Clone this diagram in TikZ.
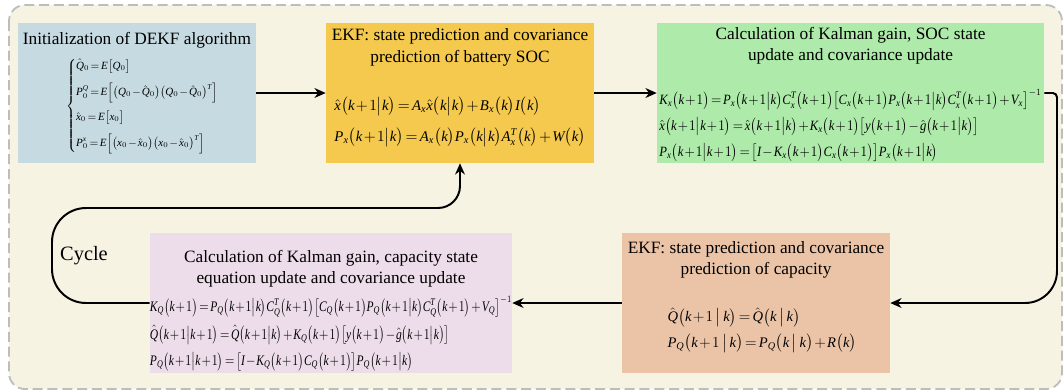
\documentclass[tikz,border=0pt]{standalone}
\usepackage{amsmath}
\usepackage{graphicx}
\usepackage{fontspec}
\setmainfont{Liberation Serif}
\DeclareSymbolFont{letters}{TU}{\rmdefault}{m}{it}
\usepackage{xcolor}
\usetikzlibrary{arrows.meta,positioning}

\definecolor{paper}{HTML}{F7F3E3}
\definecolor{initblue}{HTML}{C6DAE1}
\definecolor{socyellow}{HTML}{F4C94E}
\definecolor{gaingreen}{HTML}{AEEAAA}
\definecolor{gainpink}{HTML}{EDDDEA}
\definecolor{capsalmon}{HTML}{EBC4A7}
\definecolor{framegray}{HTML}{BDBDBD}

\newcommand{\rbr}[1]{\bigl(#1\bigr)}
\newcommand{\sbr}[1]{\bigl[#1\bigr]}
\newcommand{\cond}{\big|}
\newcommand{\tightmath}{\medmuskip=1.5mu\thickmuskip=2.5mu}

\tikzset{
  box/.style={minimum height=3.5cm, inner sep=0pt},
  boxtitle/.style={align=center, inner sep=0pt, font=\fontsize{12.3}{15}\selectfont},
  eqn/.style={inner sep=0pt, font=\fontsize{10.5}{12}\selectfont\tightmath},
  flow/.style={->, line width=1.4pt},
  frame/.style={draw=framegray, fill=paper, line width=1.3pt,
    dash pattern=on 0.25cm off 0.12cm, rounded corners=0.4cm}
}

\begin{document}
\begin{tikzpicture}[>={Stealth[length=8pt,width=7pt]}]
    \useasboundingbox (0,0) rectangle (26.6,-9.775);

    % Rahmen
    \draw[frame] (0.225,-0.125) rectangle (26.55,-9.725);

    % Bloecke
    \node[box, fill=initblue, minimum width=5.95cm] (init) at (3.425,-2.325) {};
    \node[box, fill=socyellow, minimum width=6.7cm] (soc) at (11.5,-2.325) {};
    \node[box, fill=gaingreen, minimum width=9.675cm] (gainx) at (21.2625,-2.325) {};
    \node[box, fill=capsalmon, minimum width=6.7cm] (capq) at (18.9,-7.575) {};
    \node[box, fill=gainpink, minimum width=9.05cm] (gainq) at (8.275,-7.575) {};

    % Initialisierung
    \node[boxtitle] (inittitle) at ([yshift=1.325cm]init.center) {Initialization of DEKF algorithm};
    \node[eqn, font=\fontsize{9}{11}\selectfont\tightmath] (initeq) at ([xshift=0.275cm,yshift=-0.325cm]init.center) {%
      \resizebox{4.1cm}{!}{$\begin{cases}
        \hat{Q}_0 = E\sbr{Q_0}\\[7pt]
        P_0^Q = E\Bigl[\rbr{Q_0-\hat{Q}_0}\rbr{Q_0-\hat{Q}_0}^T\Bigr]\\[7pt]
        \hat{x}_0 = E\sbr{x_0}\\[7pt]
        P_0^x = E\Bigl[\rbr{x_0-\hat{x}_0}\rbr{x_0-\hat{x}_0}^T\Bigr]
      \end{cases}$}};

    % SOC Vorhersage
    \node[boxtitle] (soctitle) at ([yshift=1.14cm]soc.center) {EKF: state prediction and covariance\\ prediction of battery SOC};
    \node[eqn] (soceq) at ([yshift=-0.725cm]soc.center) {%
      \resizebox{6.275cm}{!}{$\begin{aligned}
        &\hat{x}\rbr{k+1\cond k}=A_x\hat{x}\rbr{k\cond k}+B_x\rbr{k}I\rbr{k}\\[5pt]
        &P_x\rbr{k+1\cond k}=A_x\rbr{k}P_x\rbr{k\cond k}A_x^T\rbr{k}+W\rbr{k}
      \end{aligned}$}};

    % SOC Aktualisierung
    \node[boxtitle] (gainxtitle) at ([yshift=1.175cm]gainx.center) {Calculation of Kalman gain, SOC state\\ update and covariance update};
    \node[eqn] (gainxeq) at ([yshift=-0.81cm]gainx.center) {%
      \resizebox*{9.55cm}{1.8cm}{$\begin{aligned}
        &K_x\rbr{k+1}=P_x\rbr{k+1\cond k}C_x^T\rbr{k+1}\sbr{C_x\rbr{k+1}P_x\rbr{k+1\cond k}C_x^T\rbr{k+1}+V_x}^{-1}\\[2pt]
        &\hat{x}\rbr{k+1\cond k+1}=\hat{x}\rbr{k+1\cond k}+K_x\rbr{k+1}\sbr{y\rbr{k+1}-\hat{g}\rbr{k+1\cond k}}\\[2pt]
        &P_x\rbr{k+1\cond k+1}=\sbr{I-K_x\rbr{k+1}C_x\rbr{k+1}}P_x\rbr{k+1\cond k}
      \end{aligned}$}};

    % Kapazitaet Vorhersage
    \node[boxtitle] (capqtitle) at ([yshift=1.07cm]capq.center) {EKF: state prediction and covariance\\ prediction of capacity};
    \node[eqn, font=\fontsize{11.5}{13}\selectfont\tightmath] (capqeq) at ([xshift=0.15cm,yshift=-0.68cm]capq.center) {%
      \resizebox{4.725cm}{!}{$\begin{aligned}
        &\hat{Q}\rbr{k+1\,\cond\,k}=\hat{Q}\rbr{k\,\cond\,k}\\[2pt]
        &P_Q\rbr{k+1\,\cond\,k}=P_Q\rbr{k\,\cond\,k}+R\rbr{k}
      \end{aligned}$}};

    % Kapazitaet Aktualisierung
    \node[boxtitle] (gainqtitle) at ([yshift=0.865cm]gainq.center) {Calculation of Kalman gain, capacity state\\ equation update and covariance update};
    \node[eqn] (gainqeq) at ([yshift=-0.76cm]gainq.center) {%
      \resizebox*{9.05cm}{1.875cm}{$\begin{aligned}
        &K_Q\rbr{k+1}=P_Q\rbr{k+1\cond k}C_Q^T\rbr{k+1}\sbr{C_Q\rbr{k+1}P_Q\rbr{k+1\cond k}C_Q^T\rbr{k+1}+V_Q}^{-1}\\[2pt]
        &\hat{Q}\rbr{k+1\cond k+1}=\hat{Q}\rbr{k+1\cond k}+K_Q\rbr{k+1}\sbr{y\rbr{k+1}-\hat{g}\rbr{k+1\cond k}}\\[2pt]
        &P_Q\rbr{k+1\cond k+1}=\sbr{I-K_Q\rbr{k+1}C_Q\rbr{k+1}}P_Q\rbr{k+1\cond k}
      \end{aligned}$}};

    % Zyklus
    \node[font=\fontsize{14.5}{16}\selectfont, inner sep=0pt] (cycle) at (2.1,-6.4) {Cycle};
    \coordinate (rturn) at (26.425,-2.325);
    \coordinate (loopl) at (1.3,-5.2);

    % Pfeile
    \draw[flow] (init.east) -- (soc.west);
    \draw[flow] (soc.east) -- (gainx.west);
    \draw[flow, rounded corners=3pt] (gainx.east) -- (rturn)
        [rounded corners=0.8cm] -- (rturn |- capq.east) -- (capq.east);
    \draw[flow] (capq.west) -- (gainq.east);
    \draw[flow, rounded corners=0.85cm] (gainq.west) -- (loopl |- gainq.west) -- (loopl)
        [rounded corners=0.55cm] -- (soc.south |- loopl) -- (soc.south);

\end{tikzpicture}
\end{document}
